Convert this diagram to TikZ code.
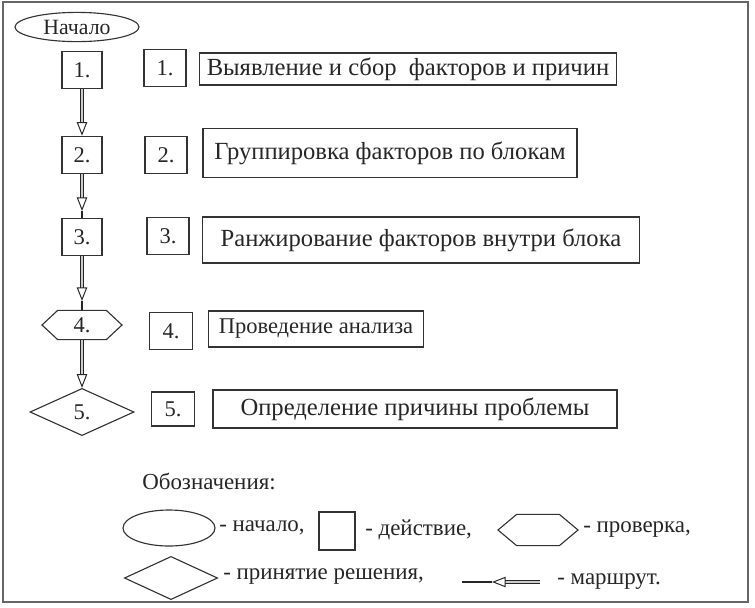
\documentclass[tikz,border=0pt]{standalone}
\usepackage{fontspec}
\setmainfont{Liberation Serif}
\usepackage{tikz}
\usetikzlibrary{arrows.meta}
\usetikzlibrary{shapes.geometric,shapes.symbols}

\tikzset{
  every node/.style={inner sep=0, text=black!85},
  stepbox/.style={draw=black!80, line width=0.9pt, minimum width=1.0cm, minimum height=0.93cm, font=\fontsize{16}{19}\selectfont},
  textbox/.style={draw=black!80, line width=0.9pt, font=\fontsize{17.5}{21}\selectfont},
  startnode/.style={draw=black!80, line width=0.8pt, ellipse, minimum width=3.1cm, minimum height=0.73cm},
  checknode/.style={draw=black!80, line width=0.8pt, signal, signal to=east and west, signal pointer angle=86, minimum width=2cm, minimum height=0.73cm},
  decisionnode/.style={draw=black!80, line width=0.8pt, diamond, minimum width=2.6cm, minimum height=1.18cm},
  legendtext/.style={anchor=west, font=\fontsize{16.3}{19}\selectfont},
  route/.style={draw=black!85, line width=0.7pt, double=black!20, double distance=1.8pt, -{Triangle[open, length=0.34cm, width=0.26cm]}},
  stem/.style={draw=black!85, line width=0.9pt},
}

\begin{document}
\begin{tikzpicture}[x=0.025cm, y=-0.025cm]
            \useasboundingbox (0,0) rectangle (755,607);
            \draw[black!60, line width=1pt] (3,2) rectangle (748,602);
            % left column
            \node[startnode, font=\fontsize{15.5}{18}\selectfont] (start) at (77,27) {Начало};
            \node[stepbox] (a1) at (82,70) {1.};
            \node[stepbox] (a2) at (82,155) {2.};
            \node[stepbox] (a3) at (82,237) {3.};
            \node[checknode, font=\fontsize{16}{19}\selectfont] (a4) at (82,325) {4.};
            \node[decisionnode, font=\fontsize{16}{19}\selectfont] (a5) at (82,412) {5.};
            % numbers
            \node[stepbox, minimum width=1.05cm] (m1) at (165,68) {1.};
            \node[stepbox, minimum width=1.05cm] (m2) at (166,155) {2.};
            \node[stepbox, minimum width=1.05cm] (m3) at (168,236) {3.};
            \node[stepbox, minimum width=1.07cm] (m4) at (171,331) {4.};
            \node[stepbox, minimum width=1.07cm, minimum height=0.85cm] (m5) at (173,409) {5.};
            % actions
            \node[textbox, minimum width=10.43cm, minimum height=0.8cm] (t1) at (408,69) {Выявление и сбор~ факторов и причин};
            \node[textbox, minimum width=9.35cm, minimum height=1.22cm] (t2) at (390,153) {Группировка факторов по блокам};
            \node[textbox, minimum width=10.93cm, minimum height=1.15cm] (t3) at (421,240) {Ранжирование факторов внутри блока};
            \node[textbox, minimum width=5.38cm, minimum height=0.9cm, font=\fontsize{16}{19}\selectfont] (t4) at (316,329) {Проведение анализа};
            \node[textbox, minimum width=10.1cm, minimum height=0.95cm] (t5) at (415,409) {Определение причины проблемы};
            % route
            \coordinate (s2) at (82,211);
            \coordinate (s3) at (82,301);
            \draw[route] (a1.south) -- (a2.north);
            \draw[route] (a2.south) -- (s2);
            \draw[stem] (s2) -- (a3.north);
            \draw[route] (a3.south) -- (s3);
            \draw[stem] (s3) -- (a4.north);
            \draw[route] (a4.south) -- (a5.north);
            % legend
            \node[legendtext] (leg) at (142,481) {Обозначения:};
            \node[startnode, minimum width=2.3cm, minimum height=0.9cm] (l1) at (169,528) {};
            \node[legendtext] (l1t) at (219,528) {- начало,};
            \node[draw=black!80, line width=0.8pt, minimum width=0.9cm, minimum height=0.95cm] (l2) at (337,531) {};
            \node[legendtext] (l2t) at (365,530) {- действие,};
            \node[checknode, signal pointer angle=80, minimum height=0.78cm] (l3) at (538,530) {};
            \node[legendtext] (l3t) at (583,530) {- проверка,};
            \node[decisionnode, minimum width=2.33cm, minimum height=1.08cm] (l4) at (171,578) {};
            \node[legendtext] (l4t) at (223,577) {- принятие решения,};
            \coordinate (r1) at (540,582);
            \coordinate (r2) at (492,582);
            \coordinate (r3) at (462,582);
            \draw[route] (r1) -- (r2);
            \draw[stem] (r2) -- (r3);
            \node[legendtext] (l5t) at (557,582) {- маршрут.};
        \end{tikzpicture}
\end{document}
